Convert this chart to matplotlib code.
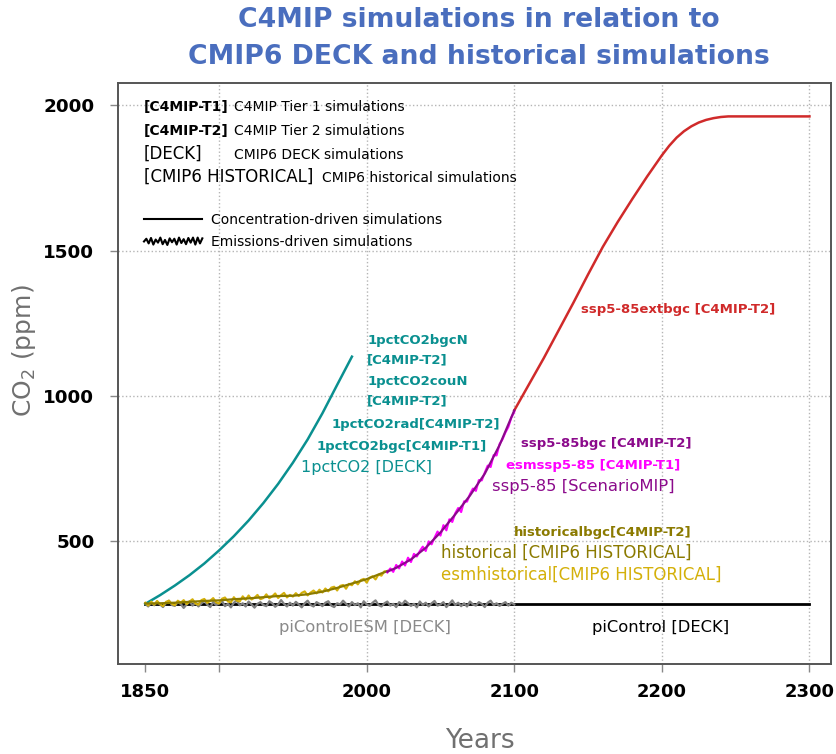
import numpy as np
import matplotlib
matplotlib.use("Agg")
import matplotlib.pyplot as plt
from matplotlib.lines import Line2D
from matplotlib.legend_handler import HandlerBase

plt.rcParams['font.family'] = ['DejaVu Sans']

# ---------------- data ----------------
picontrol_years = [1850, 2300]
picontrol_ppm = [284, 284]

picontrolesm_years = np.arange(1850, 2101, 2)
picontrolesm_ppm = [
    284, 275, 289, 279, 292, 282, 273, 287, 295, 280,
    277, 290, 284, 270, 282, 293, 278, 288, 275, 285,
    296, 281, 273, 290, 280, 286, 294, 276, 284, 272,
    288, 295, 279, 286, 275, 292, 282, 271, 284, 290,
    280, 276, 293, 286, 274, 282, 297, 284, 275, 288,
    278, 291, 282, 272, 286, 295, 280, 275, 290, 284,
    276, 288, 293, 278, 273, 286, 282, 295, 284, 275,
    290, 280, 286, 272, 293, 282, 277, 288, 296, 280,
    275, 286, 292, 278, 284, 273, 290, 282, 295, 286,
    277, 284, 272, 292, 280, 288, 275, 286, 294, 278,
    282, 290, 273, 284, 296, 280, 288, 276, 286, 275,
    292, 282, 278, 290, 284, 273, 288, 295, 280, 286,
    277, 284, 290, 278, 288, 282]

onepct_years = [1850, 1860, 1870, 1880, 1890, 1900, 1910, 1920, 1930, 1940,
                1950, 1960, 1970, 1980, 1990]
onepct_ppm = [284, 314, 347, 383, 423, 468, 517, 571, 631, 697,
              770, 850, 940, 1038, 1135]

hist_years = [1850, 1860, 1870, 1880, 1890, 1900, 1910, 1920, 1930, 1940,
              1950, 1960, 1970, 1980, 1990, 2000, 2010, 2014]
hist_ppm = [285, 286, 288, 291, 294, 296, 300, 303, 307, 311,
            312, 317, 326, 339, 354, 369, 389, 397]

esmhist_years = np.arange(1850, 2015, 2)
esmhist_ppm = [
    288, 278, 292, 281, 294, 283, 276, 291, 295, 284,
    279, 295, 288, 297, 283, 292, 300, 285, 281, 297,
    301, 287, 295, 304, 289, 285, 302, 306, 292, 289,
    307, 295, 292, 310, 298, 313, 299, 305, 315, 300,
    304, 317, 303, 310, 320, 304, 314, 322, 306, 315,
    309, 321, 311, 322, 327, 313, 323, 330, 320, 333,
    323, 337, 327, 340, 343, 330, 346, 349, 336, 353,
    348, 362, 351, 366, 370, 357, 374, 379, 368, 385,
    381, 396, 394]

ssp585_years = [2014, 2020, 2030, 2040, 2050, 2060, 2070, 2080, 2090, 2100]
ssp585_ppm = [395, 408, 437, 477, 530, 592, 657, 732, 830, 950]

esmssp585_years = np.arange(2014, 2101, 2)
esmssp585_ppm = [
    392, 406, 394, 418, 406, 430, 416, 443, 428,
    456, 447, 466, 481, 466, 499, 489, 512, 533,
    519, 555, 537, 575, 566, 596, 614, 600, 637,
    636, 662, 681, 673, 710, 709, 736, 760, 755,
    796, 795, 834, 850, 874, 893, 925, 945]

ext_years = [2100, 2110, 2120, 2130, 2140, 2150, 2160, 2170, 2180, 2190,
             2200, 2205, 2210, 2215, 2220, 2225, 2230, 2235, 2240, 2245,
             2250, 2300]
ext_ppm = [950, 1040, 1130, 1225, 1320, 1418, 1513, 1598, 1678, 1755,
           1828, 1861, 1889, 1911, 1928, 1941, 1950, 1956, 1960, 1962,
           1962, 1962]

legend_wiggle = [0.0, 0.7, -0.5, 0.9, -0.8, 0.5, -0.3, 1.0, -0.7, 0.4,
                 -0.9, 0.8, -0.2, 0.7, -0.8, 1.0, -0.4, 0.6, -0.7, 0.9,
                 -0.3, 1.0, -0.8, 1.0, -0.5, 0.8]

x_ticks = [1850, 1900, 2000, 2100, 2200, 2300]
x_ticklabels = ['1850', '', '2000', '2100', '2200', '2300']
y_ticks = [500, 1000, 1500, 2000]

# ---------------- colours ----------------
C_TEAL = '#0A9090'
C_RED = '#D02A2A'
C_PURPLE = '#8B0A8B'
C_MAGENTA = '#FF00FF'
C_OLIVE = '#8B7A00'
C_GOLD = '#D4B00A'
C_GRAY = '#808080'
C_TITLE = '#4A6EBE'

fig = plt.figure(figsize=(8.37, 7.54), dpi=100)
ax = fig.add_axes([118 / 837, 90 / 754, 713 / 837, 581 / 754])

ax.set_xlim(1831.5, 2314.6)
ax.set_ylim(77, 2077)

# lines
ax.plot(picontrol_years, picontrol_ppm, color='black', lw=2.0, zorder=3)
ax.plot(picontrolesm_years, picontrolesm_ppm, color=C_GRAY, lw=1.6, zorder=4)
ax.plot(onepct_years, onepct_ppm, color=C_TEAL, lw=1.8, zorder=5)
ax.plot(esmhist_years, esmhist_ppm, color=C_GOLD, lw=1.5, zorder=5)
ax.plot(hist_years, hist_ppm, color=C_OLIVE, lw=1.6, zorder=6)
ax.plot(ext_years, ext_ppm, color=C_RED, lw=1.8, zorder=5)
ax.plot(esmssp585_years, esmssp585_ppm, color=C_MAGENTA, lw=1.5, zorder=6)
ax.plot(ssp585_years, ssp585_ppm, color=C_PURPLE, lw=1.6, zorder=7)

# axes styling
ax.set_xticks(x_ticks)
ax.set_xticklabels(x_ticklabels)
ax.set_yticks(y_ticks)
ax.set_yticklabels([str(v) for v in y_ticks])
for lab in ax.get_xticklabels() + ax.get_yticklabels():
    lab.set_fontweight('bold')
ax.tick_params(axis='x', labelsize=13, length=6, width=1, color='#888888', pad=8)
ax.tick_params(axis='y', labelsize=13.2, length=6, width=1, color='#888888', pad=11)
ax.grid(True, ls=':', color='#b5b5b5', lw=1)
ax.get_xgridlines()[0].set_visible(False)
for s in ax.spines.values():
    s.set_color('#555555')
    s.set_linewidth(1.4)

ax.set_ylabel('CO$_2$ (ppm)', fontsize=18, color='#707070')
ax.yaxis.set_label_coords(-0.112, 0.54)
ax.set_xlabel('Years', fontsize=19, color='#707070')
ax.xaxis.set_label_coords(0.508, -0.11)

fig.text(0.572, 0.991, 'C4MIP simulations in relation to\nCMIP6 DECK and historical simulations',
         ha='center', va='top', fontsize=19.2, fontweight='bold', color=C_TITLE,
         linespacing=1.55)

# key text block
def atx(px):
    return (px - 118) / 713

def aty(py):
    return (664 - py) / 581

ax.text(atx(144), aty(107), '[C4MIP-T1]', transform=ax.transAxes, fontsize=10,
        fontweight='bold', va='center')
ax.text(atx(234), aty(107), 'C4MIP Tier 1 simulations', transform=ax.transAxes,
        fontsize=10, va='center')
ax.text(atx(144), aty(131), '[C4MIP-T2]', transform=ax.transAxes, fontsize=10,
        fontweight='bold', va='center')
ax.text(atx(234), aty(131), 'C4MIP Tier 2 simulations', transform=ax.transAxes,
        fontsize=10, va='center')
ax.text(atx(144), aty(154), '[DECK]', transform=ax.transAxes, fontsize=12, va='center')
ax.text(atx(234), aty(155), 'CMIP6 DECK simulations', transform=ax.transAxes,
        fontsize=10, va='center')
ax.text(atx(144), aty(177), '[CMIP6 HISTORICAL]', transform=ax.transAxes, fontsize=12,
        va='center')
ax.text(atx(322), aty(178), 'CMIP6 historical simulations', transform=ax.transAxes,
        fontsize=10, va='center')


class HandlerWiggle(HandlerBase):
    def create_artists(self, legend, orig_handle, xdescent, ydescent, width, height,
                       fontsize, trans):
        n = len(legend_wiggle)
        xs = -xdescent + np.linspace(0, width, n)
        ys = -ydescent + height / 2 + np.asarray(legend_wiggle) * height * 0.4
        ln = Line2D(xs, ys, color='black', lw=1.5)
        ln.set_transform(trans)
        return [ln]


h_conc = Line2D([0], [0], color='black', lw=1.5)
h_emis = Line2D([0], [0], color='black', lw=1.5)
leg = ax.legend([h_conc, h_emis],
                ['Concentration-driven simulations', 'Emissions-driven simulations'],
                handler_map={h_emis: HandlerWiggle()},
                loc='upper left', bbox_to_anchor=(atx(144), aty(213)),
                borderaxespad=0, borderpad=0, frameon=False, fontsize=10,
                handlelength=4.2, handletextpad=0.62, labelspacing=0.6)

# curve labels (data coordinates)
bold_fs = 9.5
norm_fs = 11.8
ax.text(2000.3, 1191, '1pctCO2bgcN', color=C_TEAL, fontsize=bold_fs, fontweight='bold', va='center')
ax.text(2000.0, 1122, '[C4MIP-T2]', color=C_TEAL, fontsize=bold_fs, fontweight='bold', va='center')
ax.text(2000.3, 1050, '1pctCO2couN', color=C_TEAL, fontsize=bold_fs, fontweight='bold', va='center')
ax.text(2000.0, 982, '[C4MIP-T2]', color=C_TEAL, fontsize=bold_fs, fontweight='bold', va='center')
ax.text(1976.0, 902, '1pctCO2rad[C4MIP-T2]', color=C_TEAL, fontsize=bold_fs, fontweight='bold', va='center')
ax.text(1965.8, 827, '1pctCO2bgc[C4MIP-T1]', color=C_TEAL, fontsize=bold_fs, fontweight='bold', va='center')
ax.text(1955.6, 755, '1pctCO2 [DECK]', color=C_TEAL, fontsize=11.5, va='center')

ax.text(2145.3, 1298, 'ssp5-85extbgc [C4MIP-T2]', color=C_RED, fontsize=bold_fs, fontweight='bold', va='center')
ax.text(2104.6, 837, 'ssp5-85bgc [C4MIP-T2]', color=C_PURPLE, fontsize=bold_fs, fontweight='bold', va='center')
ax.text(2094.5, 761, 'esmssp5-85 [C4MIP-T1]', color=C_MAGENTA, fontsize=bold_fs, fontweight='bold', va='center')
ax.text(2085.0, 689, 'ssp5-85 [ScenarioMIP]', color=C_PURPLE, fontsize=norm_fs, va='center')

ax.text(2100.0, 531, 'historicalbgc[C4MIP-T2]', color=C_OLIVE, fontsize=bold_fs, fontweight='bold', va='center')
ax.text(2050.4, 459, 'historical [CMIP6 HISTORICAL]', color=C_OLIVE, fontsize=12, va='center')
ax.text(2050.4, 383, 'esmhistorical[CMIP6 HISTORICAL]', color=C_GOLD, fontsize=12, va='center')
ax.text(1940.7, 201, 'piControlESM [DECK]', color='#8a8a8a', fontsize=norm_fs, va='center')
ax.text(2152.7, 201, 'piControl [DECK]', color='black', fontsize=norm_fs, va='center')

fig.savefig('out.png', dpi=100)
